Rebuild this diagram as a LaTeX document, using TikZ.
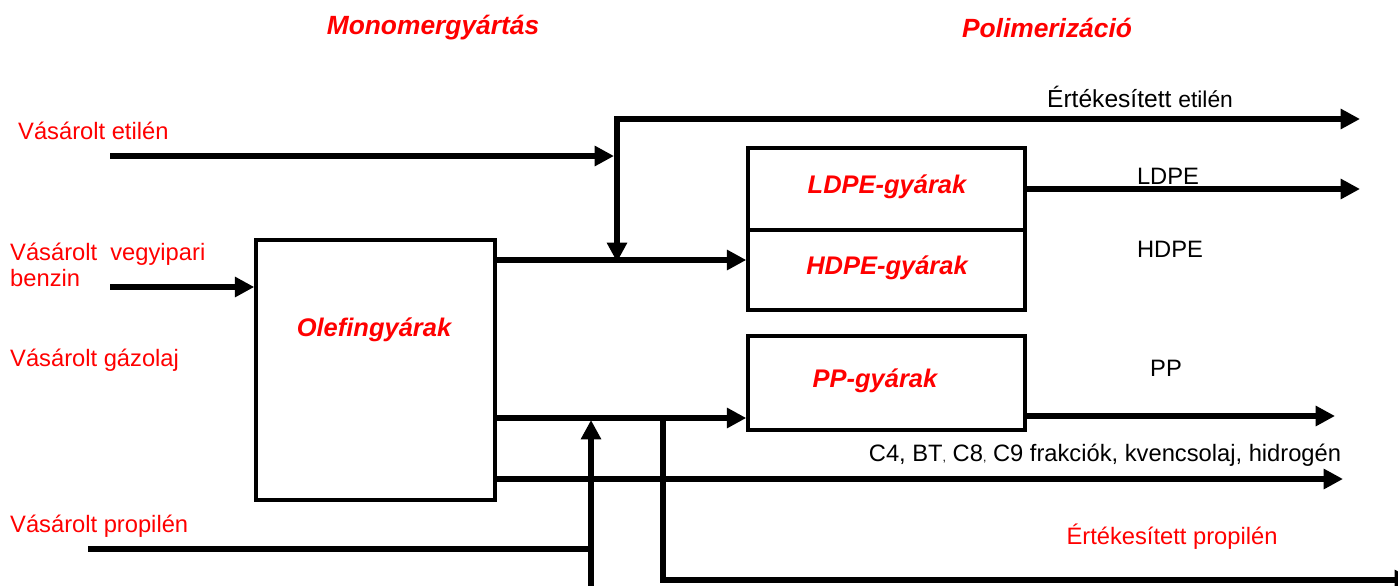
\documentclass[tikz,border=0pt]{standalone}
\usepackage{fontspec}
\setmainfont{Liberation Sans}
\usetikzlibrary{positioning,arrows.meta,calc}
\definecolor{ink}{HTML}{000000}
\definecolor{hot}{HTML}{FF0000}
\tikzset{
  flow/.style={-{Triangle[length=11pt,width=11pt]}, line width=3.3pt, color=ink},
  twoway/.style={{Triangle[length=11pt,width=11pt]}-{Triangle[length=11pt,width=11pt]}, line width=3.3pt, color=ink},
  pipe/.style={line width=3.3pt, color=ink},
  plant/.style={draw=ink, line width=2pt, inner sep=0pt, minimum width=5.54cm},
  pname/.style={font=\bfseries\itshape\fontsize{14.5}{17}\selectfont, text=hot},
  feed/.style={font=\fontsize{13.5}{16}\selectfont, text=hot, anchor=west},
  prod/.style={font=\fontsize{13.5}{16}\selectfont, text=ink},
  ttl/.style={font=\bfseries\itshape\fontsize{15}{17}\selectfont, text=hot},
}

\begin{document}
\begin{tikzpicture}[x=0.02cm,y=-0.02cm]
  \useasboundingbox (0,0) rectangle (1398,585);
  % titles
  \node[ttl] (tmono) at (433,28) {Monomergyártás};
  \node[ttl] (tpoli) at (1047,28) {Polimerizáció};
  % plants
  \node[plant, minimum width=4.78cm, minimum height=5.2cm] (olef) at (375.5,370) {};
  \node[pname] (olefname) at (374,330) {Olefingyárak};
  \node[plant, minimum height=1.64cm] (ldpe) at (886.5,189) {};
  \node[pname] (ldpename) at (887,187) {LDPE-gyárak};
  \node[plant, minimum height=1.6cm] (hdpe) at (886.5,270) {};
  \node[pname] (hdpename) at (887,268) {HDPE-gyárak};
  \node[plant, minimum height=1.88cm] (pp) at (886.5,383) {};
  \node[pname] (ppname) at (875,381) {PP-gyárak};
  % feeds
  \node[feed] (fetil) at (12,131) {Vásárolt etilén};
  \node[feed, align=left] (fbenz) at (4,265) {Vásárolt\ \ vegyipari\\[-1pt]benzin};
  \node[feed] (fgaz) at (4,360) {Vásárolt gázolaj};
  \node[feed] (fprop) at (4,526) {Vásárolt propilén};
  % products
  \node[prod] (petil) at (1140,97) {\fontsize{14}{17}\selectfont Értékesített \fontsize{13}{15}\selectfont etilén};
  \node[prod] (pldpe) at (1168,176) {LDPE};
  \node[prod] (phdpe) at (1170,249) {HDPE};
  \node[prod] (ppp) at (1166,368) {PP};
  \node[prod] (pfrak) at (1105,455) {C4, BT{\scriptsize,} C8{\scriptsize,} C9 frakciók, kvencsolaj, hidrogén};
  \node[feed, anchor=center] (pprop) at (1172,537) {Értékesített propilén};
  % junctions and free ends
  \coordinate (etin) at (110,156);
  \coordinate (ejoin) at (614,156);
  \coordinate (edown) at (617,262);
  \coordinate (eout) at (1360,119);
  \coordinate (bzin) at (110,287);
  \coordinate (mainline) at (0,260);
  \coordinate (ppline) at (0,418);
  \coordinate (lout) at (1360,189);
  \coordinate (ppout) at (1335,416);
  \coordinate (frakout) at (1343,479);
  \coordinate (prin) at (88,549);
  \coordinate (prjoin) at (591,549);
  \coordinate (prbot) at (591,590);
  \coordinate (prup) at (591,420);
  \coordinate (soldtop) at (663,418);
  \coordinate (soldout) at (1414,580);
  % connectors
  \draw[flow] (etin) -- (ejoin);
  \draw[twoway] (edown) |- (eout);
  \draw[flow] (olef.east |- mainline) -- (hdpe.west |- mainline);
  \draw[flow] (bzin) -- (bzin -| olef.west);
  \draw[flow] (ldpe.east) -- (lout);
  \draw[flow] (olef.east |- ppline) -- (pp.west |- ppline);
  \draw[flow] (pp.east |- ppout) -- (ppout);
  \draw[flow] (olef.east |- frakout) -- (frakout);
  \draw[pipe] (prin) -- (prjoin);
  \draw[flow] (prbot) -- (prup);
  \draw[flow] (soldtop) |- (soldout);
\end{tikzpicture}
\end{document}
